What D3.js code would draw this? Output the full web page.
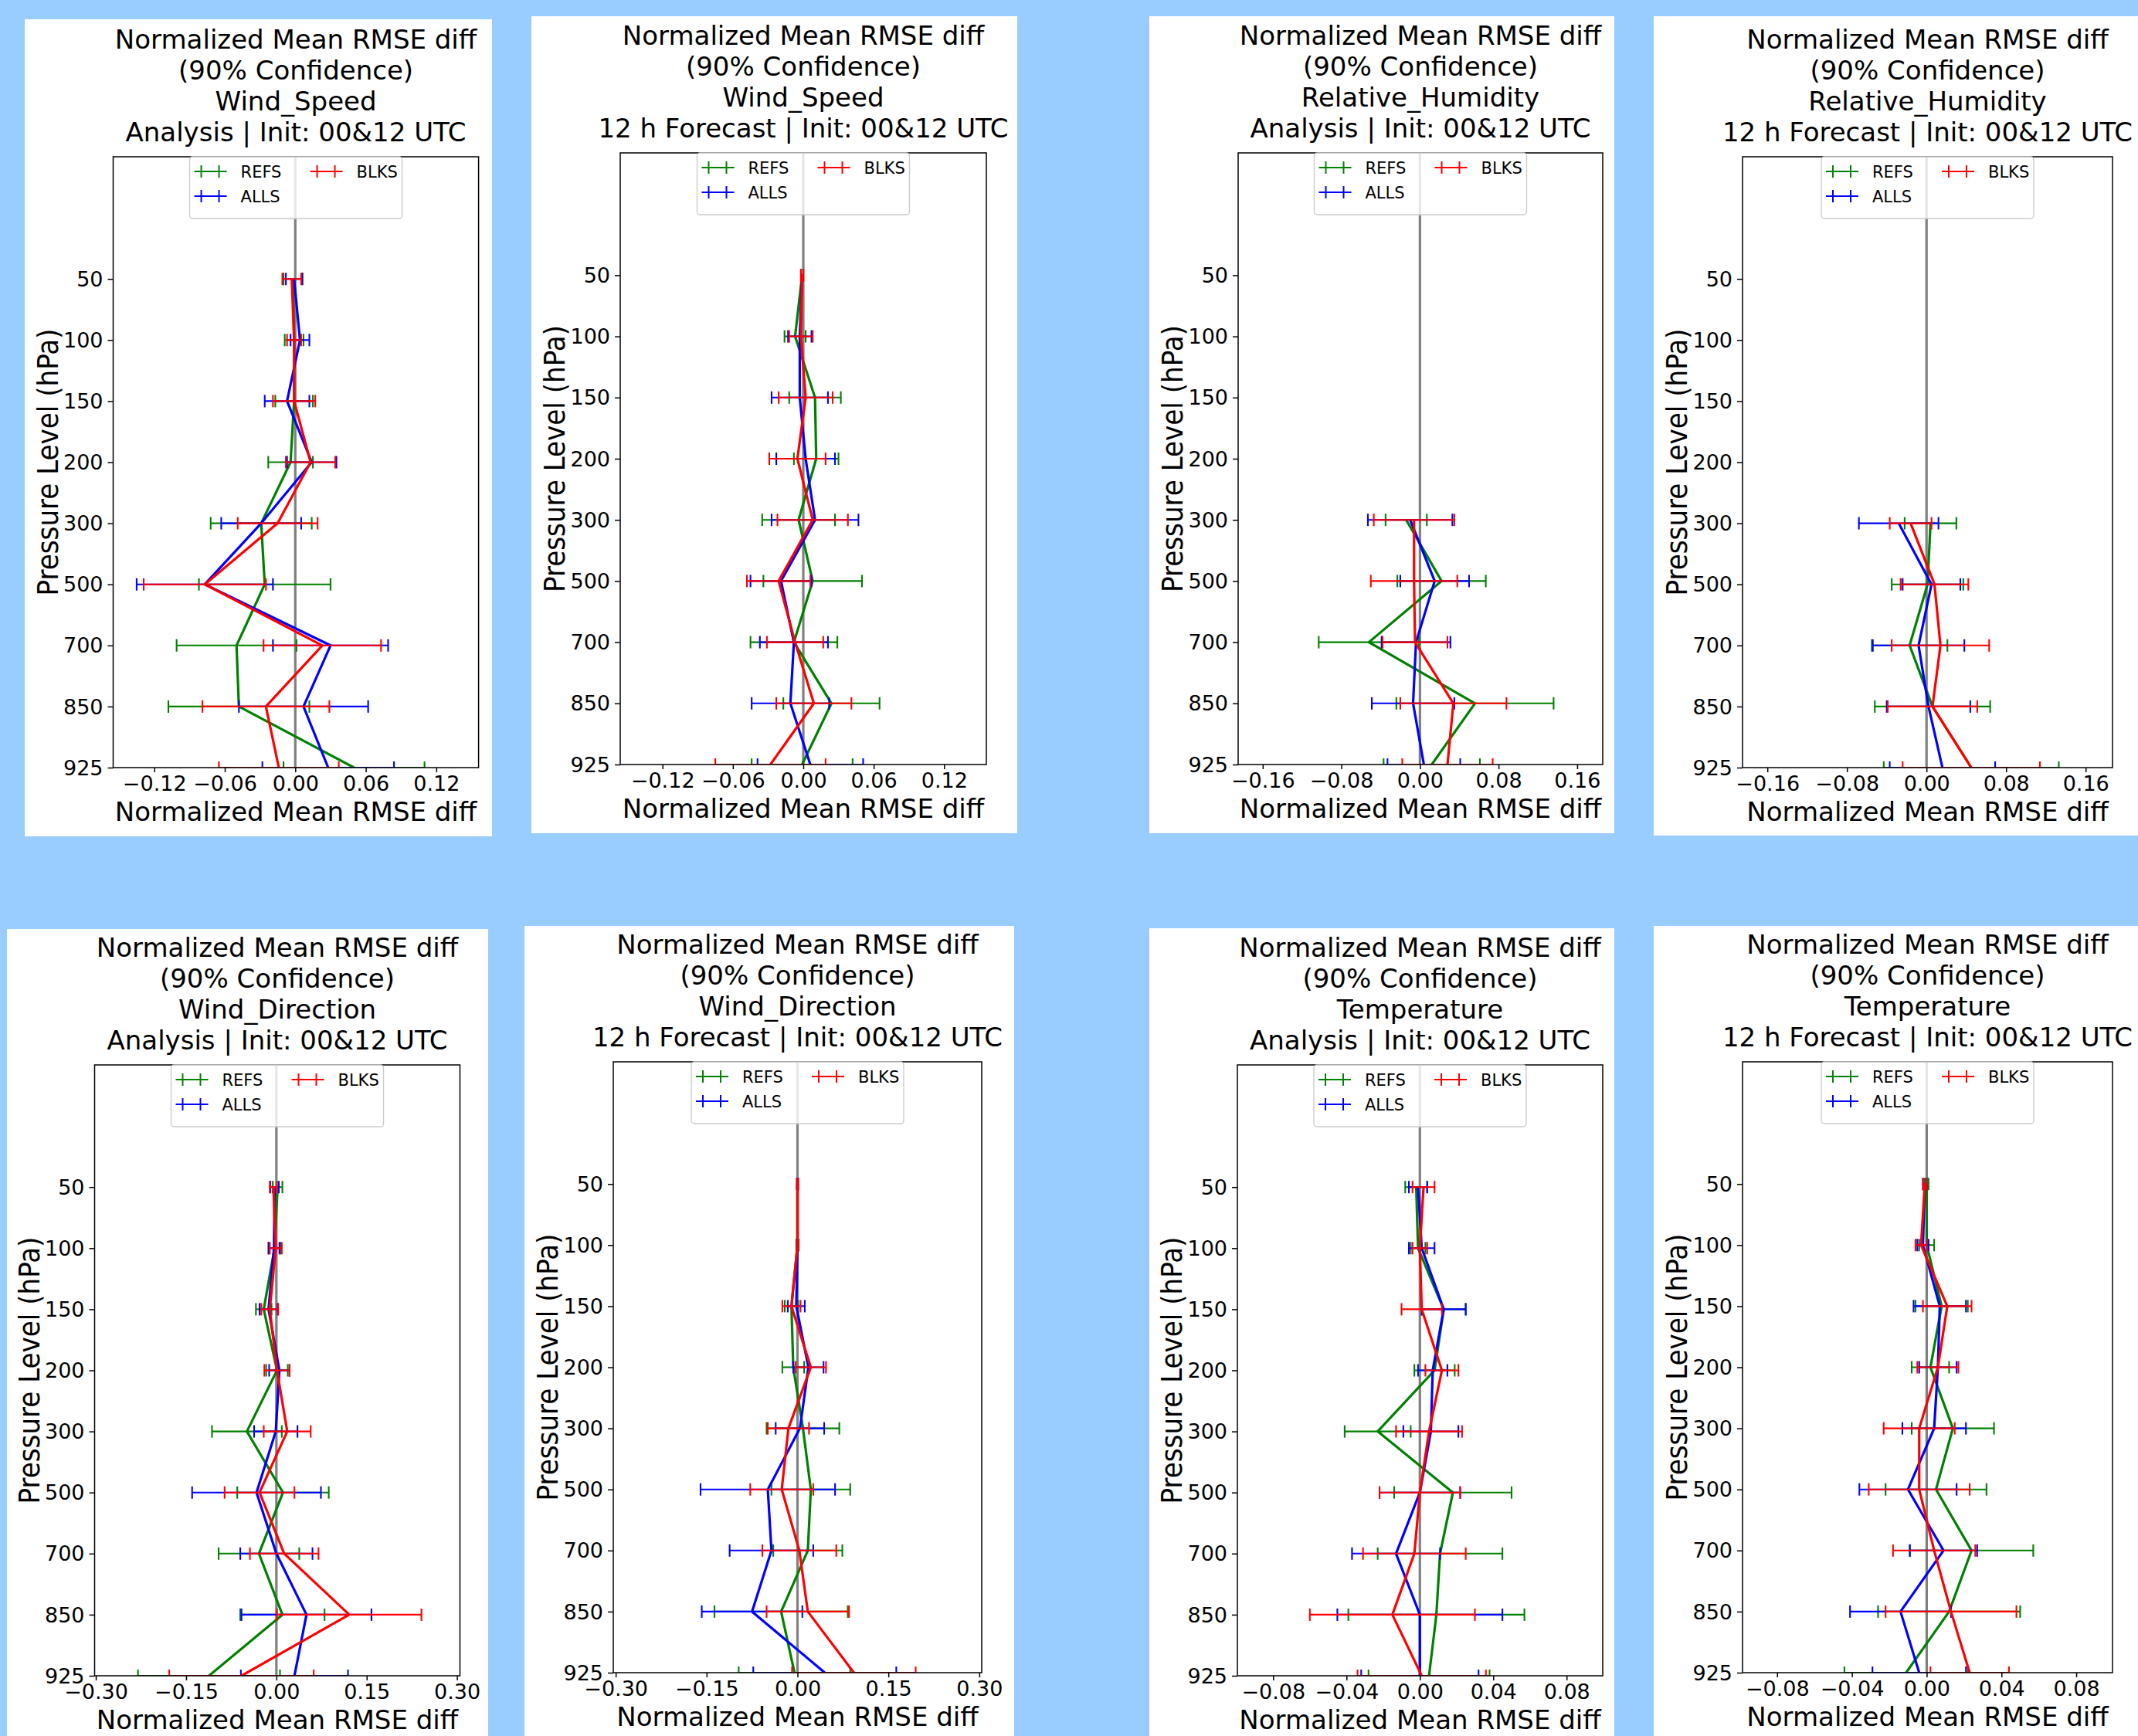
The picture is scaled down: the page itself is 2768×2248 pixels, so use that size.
<!DOCTYPE html>
<html>
<head>
<meta charset="utf-8">
<script src="https://cdn.jsdelivr.net/npm/d3@7"></script>
<style>
    body { margin: 0; background: #99ccff; }
    svg { display: block; }
    text { font-family: "DejaVu Sans", sans-serif; fill: #000; }
    .ylab { font-family: "DejaVu Sans Condensed", "DejaVu Sans", sans-serif; font-stretch: condensed; }
</style>
</head>
<body>
<div id="chart"></div>
<script>
// Pressure levels (top to bottom)
var levels = [50, 100, 150, 200, 300, 500, 700, 850, 925];
var seriesNames = ["REFS", "ALLS", "BLKS"];
var seriesColors = ["#008000", "#0000ff", "#ff0000"];

// Wind_Speed - Analysis
var wsAnRefs = [-0.002, -0.001, -0.001, -0.004, -0.029, -0.026, -0.050, -0.048, 0.050];
var wsAnRefsCi = [0.008, 0.008, 0.016, 0.019, 0.043, 0.056, 0.051, 0.060, 0.060];
var wsAnAlls = [-0.001, 0.004, -0.007, 0.014, -0.029, -0.077, 0.030, 0.007, 0.028];
var wsAnAllsCi = [0.007, 0.008, 0.019, 0.021, 0.034, 0.058, 0.049, 0.055, 0.056];
var wsAnBlks = [-0.003, -0.001, -0.001, 0.013, -0.015, -0.077, 0.023, -0.025, -0.014];
var wsAnBlksCi = [0.008, 0.006, 0.018, 0.021, 0.034, 0.052, 0.050, 0.054, 0.051];

// Wind_Speed - 12 h Forecast
var wsFcRefs = [-0.001, -0.007, 0.010, 0.011, -0.004, 0.008, -0.008, 0.024, -0.001];
var wsFcRefsCi = [0.001, 0.009, 0.022, 0.019, 0.031, 0.042, 0.037, 0.041, 0.043];
var wsFcAlls = [-0.001, -0.003, -0.003, 0.002, 0.010, -0.019, -0.008, -0.011, 0.006];
var wsFcAllsCi = [0.001, 0.010, 0.024, 0.025, 0.037, 0.026, 0.029, 0.033, 0.045];
var wsFcBlks = [-0.001, -0.002, 0.002, -0.005, 0.008, -0.021, -0.007, 0.009, -0.028];
var wsFcBlksCi = [0.001, 0.010, 0.023, 0.024, 0.030, 0.027, 0.024, 0.032, 0.047];

// Relative_Humidity - Analysis (no data above 300 hPa)
var rhAnRefs = [null, null, null, null, -0.014, 0.022, -0.052, 0.056, 0.012];
var rhAnRefsCi = [null, null, null, null, 0.021, 0.045, 0.051, 0.080, 0.049];
var rhAnAlls = [null, null, null, null, -0.010, 0.015, -0.004, -0.007, 0.004];
var rhAnAllsCi = [null, null, null, null, 0.043, 0.035, 0.035, 0.042, 0.037];
var rhAnBlks = [null, null, null, null, -0.006, -0.006, -0.005, 0.034, 0.028];
var rhAnBlksCi = [null, null, null, null, 0.041, 0.044, 0.033, 0.054, 0.046];

// Relative_Humidity - 12 h Forecast
var rhFcRefs = [null, null, null, null, 0.004, 0.001, -0.017, 0.006, 0.045];
var rhFcRefsCi = [null, null, null, null, 0.026, 0.036, 0.038, 0.058, 0.088];
var rhFcAlls = [null, null, null, null, -0.028, 0.005, -0.008, 0.002, 0.016];
var rhFcAllsCi = [null, null, null, null, 0.040, 0.029, 0.046, 0.042, 0.053];
var rhFcBlks = [null, null, null, null, -0.016, 0.008, 0.014, 0.006, 0.045];
var rhFcBlksCi = [null, null, null, null, 0.021, 0.034, 0.049, 0.045, 0.069];

// Wind_Direction - Analysis
var wdAnRefs = [0.002, -0.003, -0.021, 0.001, -0.049, 0.011, -0.029, 0.010, -0.112];
var wdAnRefsCi = [0.008, 0.010, 0.013, 0.018, 0.058, 0.076, 0.067, 0.070, 0.118];
var wdAnAlls = [-0.003, -0.004, -0.013, 0.005, -0.001, -0.033, 0.000, 0.050, 0.030];
var wdAnAllsCi = [0.007, 0.009, 0.015, 0.017, 0.036, 0.107, 0.060, 0.108, 0.089];
var wdAnBlks = [-0.005, -0.001, -0.011, 0.001, 0.018, -0.028, 0.013, 0.121, -0.058];
var wdAnBlksCi = [0.006, 0.010, 0.014, 0.021, 0.039, 0.058, 0.057, 0.120, 0.120];

// Wind_Direction - 12 h Forecast
var wdFcRefs = [0.000, 0.000, -0.010, -0.007, 0.009, 0.022, 0.017, -0.027, -0.005];
var wdFcRefsCi = [0.001, 0.002, 0.011, 0.018, 0.060, 0.065, 0.057, 0.110, 0.092];
var wdFcAlls = [0.000, 0.000, -0.002, 0.018, 0.004, -0.049, -0.043, -0.075, 0.045];
var wdFcAllsCi = [0.001, 0.001, 0.014, 0.025, 0.040, 0.111, 0.069, 0.083, 0.118];
var wdFcBlks = [0.000, 0.000, -0.010, 0.022, -0.015, -0.026, 0.003, 0.017, 0.093];
var wdFcBlksCi = [0.001, 0.001, 0.015, 0.025, 0.034, 0.052, 0.061, 0.068, 0.102];

// Temperature - Analysis
var tAnRefs = [-0.002, -0.001, 0.013, 0.008, -0.023, 0.018, 0.011, 0.009, 0.005];
var tAnRefsCi = [0.006, 0.004, 0.012, 0.011, 0.018, 0.032, 0.034, 0.048, 0.033];
var tAnAlls = [-0.001, 0.001, 0.013, 0.007, 0.006, 0.000, -0.013, 0.000, 0.000];
var tAnAllsCi = [0.005, 0.007, 0.012, 0.008, 0.015, 0.022, 0.024, 0.045, 0.032];
var tAnBlks = [0.002, 0.000, 0.001, 0.012, 0.005, 0.000, -0.003, -0.015, 0.001];
var tAnBlksCi = [0.006, 0.004, 0.011, 0.009, 0.018, 0.022, 0.028, 0.045, 0.035];

// Temperature - 12 h Forecast
var tFcRefs = [0.000, 0.000, 0.008, 0.002, 0.014, 0.005, 0.024, 0.012, -0.011];
var tFcRefsCi = [0.001, 0.004, 0.014, 0.010, 0.022, 0.027, 0.033, 0.038, 0.033];
var tFcAlls = [-0.001, -0.002, 0.007, 0.006, 0.004, -0.010, 0.009, -0.014, -0.004];
var tFcAllsCi = [0.001, 0.003, 0.014, 0.010, 0.017, 0.026, 0.018, 0.027, 0.025];
var tFcBlks = [-0.001, -0.003, 0.011, 0.006, -0.004, -0.004, 0.004, 0.013, 0.023];
var tFcBlksCi = [0.001, 0.003, 0.013, 0.011, 0.019, 0.027, 0.022, 0.035, 0.021];

// Tick labels for the x axes
var ticksWs = [-0.12, -0.06, 0, 0.06, 0.12];
var ticksRh = [-0.16, -0.08, 0, 0.08, 0.16];
var ticksWd = [-0.30, -0.15, 0, 0.15, 0.30];
var ticksT = [-0.08, -0.04, 0, 0.04, 0.08];

var titleTop = ["Normalized Mean RMSE diff", "(90% Confidence)"];
var leadAn = "Analysis | Init: 00&12 UTC";
var leadFc = "12 h Forecast | Init: 00&12 UTC";

// Panel definitions
var panels = [
    {v: "Wind_Speed", lead: leadAn, xlim: [-0.155, 0.156], ticks: ticksWs,
     mean: [wsAnRefs, wsAnAlls, wsAnBlks], ci: [wsAnRefsCi, wsAnAllsCi, wsAnBlksCi]},
    {v: "Wind_Speed", lead: leadFc, xlim: [-0.156, 0.156], ticks: ticksWs,
     mean: [wsFcRefs, wsFcAlls, wsFcBlks], ci: [wsFcRefsCi, wsFcAllsCi, wsFcBlksCi]},
    {v: "Relative_Humidity", lead: leadAn, xlim: [-0.185, 0.186], ticks: ticksRh,
     mean: [rhAnRefs, rhAnAlls, rhAnBlks], ci: [rhAnRefsCi, rhAnAllsCi, rhAnBlksCi]},
    {v: "Relative_Humidity", lead: leadFc, xlim: [-0.185, 0.187], ticks: ticksRh,
     mean: [rhFcRefs, rhFcAlls, rhFcBlks], ci: [rhFcRefsCi, rhFcAllsCi, rhFcBlksCi]},
    {v: "Wind_Direction", lead: leadAn, xlim: [-0.302, 0.305], ticks: ticksWd,
     mean: [wdAnRefs, wdAnAlls, wdAnBlks], ci: [wdAnRefsCi, wdAnAllsCi, wdAnBlksCi]},
    {v: "Wind_Direction", lead: leadFc, xlim: [-0.304, 0.304], ticks: ticksWd,
     mean: [wdFcRefs, wdFcAlls, wdFcBlks], ci: [wdFcRefsCi, wdFcAllsCi, wdFcBlksCi]},
    {v: "Temperature", lead: leadAn, xlim: [-0.0995, 0.0997], ticks: ticksT,
     mean: [tAnRefs, tAnAlls, tAnBlks], ci: [tAnRefsCi, tAnAllsCi, tAnBlksCi]},
    {v: "Temperature", lead: leadFc, xlim: [-0.0985, 0.0994], ticks: ticksT,
     mean: [tFcRefs, tFcAlls, tFcBlks], ci: [tFcRefsCi, tFcAllsCi, tFcBlksCi]}
];

// Where each pasted figure sits on the page: white box and axes box [x0, y0, x1, y1]
var layout = [
    {box: [32, 25, 637, 1083], plot: [146.5, 203, 619.6, 994]},
    {box: [688, 21, 1317, 1079], plot: [803, 198, 1277, 990]},
    {box: [1488, 21, 2090, 1079], plot: [1603, 198, 2075, 990]},
    {box: [2141, 21, 2768, 1082], plot: [2256, 203, 2735, 994]},
    {box: [9, 1203, 632, 2248], plot: [122.5, 1379, 595.5, 2170]},
    {box: [679, 1199, 1313, 2248], plot: [794, 1375, 1271, 2166]},
    {box: [1488, 1202, 2090, 2248], plot: [1602, 1379, 2075, 2170]},
    {box: [2141, 1199, 2768, 2248], plot: [2256, 1375, 2735, 2166]}
];

var svgWidth = 2768;
var svgHeight = 2248;

var svg = d3.select("#chart")
    .append("svg")
    .attr("width", svgWidth)
    .attr("height", svgHeight);

svg.append("rect")
    .attr("width", svgWidth)
    .attr("height", svgHeight)
    .attr("fill", "#99ccff");

var capHalf = 8;
var fmt = d3.format(".2f");

panels.forEach(function(p, pi) {
    var lay = layout[pi];
    var left = lay.plot[0], top = lay.plot[1], right = lay.plot[2], bottom = lay.plot[3];

    var g = svg.append("g");

    // white figure background
    g.append("rect")
        .attr("x", lay.box[0])
        .attr("y", lay.box[1])
        .attr("width", lay.box[2] - lay.box[0])
        .attr("height", lay.box[3] - lay.box[1])
        .attr("fill", "#fff");

    // scales: levels are evenly spaced, two empty slots above 50 hPa for the legend
    var x = d3.scaleLinear().domain(p.xlim).range([left, right]);
    var y = d3.scaleLinear().domain([-2, levels.length - 1]).range([top, bottom]);

    var clipId = "clip" + pi;
    g.append("clipPath")
        .attr("id", clipId)
        .append("rect")
        .attr("x", left)
        .attr("y", top)
        .attr("width", right - left)
        .attr("height", bottom - top);

    var plotArea = g.append("g").attr("clip-path", "url(#" + clipId + ")");

    // zero line
    plotArea.append("line")
        .attr("x1", x(0)).attr("x2", x(0))
        .attr("y1", top).attr("y2", bottom)
        .attr("stroke", "#808080")
        .attr("stroke-width", 3.2);

    // series with horizontal error bars
    seriesNames.forEach(function(name, si) {
        var pts = levels.map(function(lv, i) {
            return {i: i, m: p.mean[si][i], e: p.ci[si][i]};
        }).filter(function(d) { return d.m !== null; });

        var col = seriesColors[si];
        var sg = plotArea.append("g");

        sg.selectAll(".bar")
            .data(pts)
            .enter()
            .append("line")
            .attr("x1", d => x(d.m - d.e))
            .attr("x2", d => x(d.m + d.e))
            .attr("y1", d => y(d.i))
            .attr("y2", d => y(d.i))
            .attr("stroke", col)
            .attr("stroke-width", 2.1);

        [-1, 1].forEach(function(sign) {
            sg.selectAll(".cap" + sign)
                .data(pts)
                .enter()
                .append("line")
                .attr("x1", d => x(d.m + sign * d.e))
                .attr("x2", d => x(d.m + sign * d.e))
                .attr("y1", d => y(d.i) - capHalf)
                .attr("y2", d => y(d.i) + capHalf)
                .attr("stroke", col)
                .attr("stroke-width", 2.1);
        });

        var line = d3.line()
            .x(d => x(d.m))
            .y(d => y(d.i));

        sg.append("path")
            .attr("d", line(pts))
            .attr("fill", "none")
            .attr("stroke", col)
            .attr("stroke-width", 3.2)
            .attr("stroke-linejoin", "round");
    });

    // axes
    var xAxis = g.append("g")
        .attr("transform", `translate(0, ${bottom})`)
        .call(d3.axisBottom(x).tickValues(p.ticks).tickFormat(fmt).tickSize(6).tickPadding(5));

    var yAxis = g.append("g")
        .attr("transform", `translate(${left}, 0)`)
        .call(d3.axisLeft(y).tickValues(d3.range(levels.length))
            .tickFormat(i => levels[i]).tickSize(7).tickPadding(6));

    [xAxis, yAxis].forEach(function(ax) {
        ax.select(".domain").remove();
        ax.selectAll("line").attr("stroke", "#000").attr("stroke-width", 1.5);
        ax.selectAll("text").style("font-size", "27px").attr("fill", "#000");
    });
    xAxis.selectAll("text").attr("dy", "0.72em");
    yAxis.selectAll("text").attr("dy", "0.34em");

    // frame
    g.append("rect")
        .attr("x", left)
        .attr("y", top)
        .attr("width", right - left)
        .attr("height", bottom - top)
        .attr("fill", "none")
        .attr("stroke", "#000")
        .attr("stroke-width", 1.5);

    // title
    var cx = (left + right) / 2;
    var titleLines = titleTop.concat([p.v, p.lead]);
    g.selectAll(".title")
        .data(titleLines)
        .enter()
        .append("text")
        .attr("x", cx)
        .attr("y", (d, i) => top - 20 - (3 - i) * 40)
        .attr("text-anchor", "middle")
        .style("font-size", "34px")
        .text(d => d);

    // axis labels
    g.append("text")
        .attr("x", cx)
        .attr("y", bottom + 69)
        .attr("text-anchor", "middle")
        .style("font-size", "34px")
        .text("Normalized Mean RMSE diff");

    g.append("text")
        .attr("class", "ylab")
        .attr("transform", `translate(${left - 85}, ${(top + bottom) / 2}) rotate(-90)`)
        .attr("text-anchor", "middle")
        .attr("dy", "0.35em")
        .style("font-size", "38px")
        .text("Pressure Level (hPa)");

    // legend, upper center, two columns
    var legW = 275, legH = 80;
    var legend = g.append("g")
        .attr("transform", `translate(${cx - legW / 2}, ${top})`);

    legend.append("rect")
        .attr("width", legW)
        .attr("height", legH)
        .attr("rx", 4)
        .attr("fill", "#fff")
        .attr("fill-opacity", 0.8)
        .attr("stroke", "#cccccc")
        .attr("stroke-width", 1.4);

    var slots = [[6, 19], [6, 51], [156, 19]];
    seriesNames.forEach(function(name, si) {
        var s = slots[si];
        var col = seriesColors[si];
        var item = legend.append("g").attr("transform", `translate(${s[0]}, ${s[1]})`);
        item.append("line")
            .attr("x1", 0).attr("x2", 42)
            .attr("y1", 0).attr("y2", 0)
            .attr("stroke", col)
            .attr("stroke-width", 2);
        [9, 32].forEach(function(tx) {
            item.append("line")
                .attr("x1", tx).attr("x2", tx)
                .attr("y1", -8).attr("y2", 8)
                .attr("stroke", col)
                .attr("stroke-width", 2);
        });
        item.append("text")
            .attr("x", 60)
            .attr("dy", "0.36em")
            .style("font-size", "21px")
            .text(name);
    });
});
</script>
</body>
</html>
